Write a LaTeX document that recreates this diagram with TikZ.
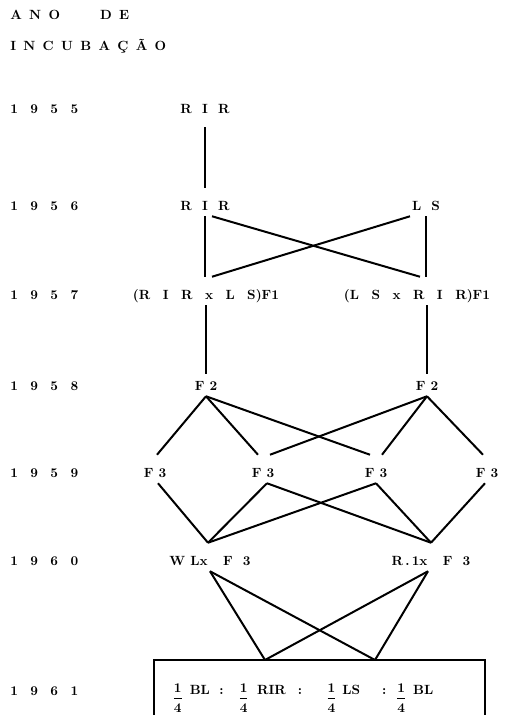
\documentclass[tikz,border=0pt]{standalone}
\usepackage{tikz}

\newcommand{\qfrac}{\raisebox{-6pt}{\boldmath$\displaystyle\frac{1}{4}$}}

\tikzset{
  gen/.style={anchor=base, inner sep=0pt, text height=16.5pt, text depth=4.5pt, font=\bfseries},
  yr/.style={anchor=base west, inner sep=0pt, font=\bfseries},
  lnk/.style={line width=1.5pt},
}

\begin{document}
\begin{tikzpicture}[x=0.75pt,y=0.75pt,yscale=-1,xscale=1]
\useasboundingbox (0,0) rectangle (505,715);

% heading
\node[yr] (ano) at (10,19) {A~\,N~\,O\hspace{30pt}D~\,E};
\node[yr] (inc) at (10,50) {I~\,N~\,C~\,U~\,B~\,A~\,Ç~\,Ã~\,O};

% years
\node[yr] (y55) at (10,113) {1~~\,9~~\,5~~\,5};
\node[yr] (y56) at (10,210) {1~~\,9~~\,5~~\,6};
\node[yr] (y57) at (10,299) {1~~\,9~~\,5~~\,7};
\node[yr] (y58) at (10,390) {1~~\,9~~\,5~~\,8};
\node[yr] (y59) at (10,477) {1~~\,9~~\,5~~\,9};
\node[yr] (y60) at (10,565) {1~~\,9~~\,6~~\,0};
\node[yr] (y61) at (10,695) {1~~\,9~~\,6~~\,1};

% crosses
\node[gen] (rir55) at (205,113) {R~~I~~R};
\node[gen] (rir56) at (205,210) {R~~I~~R};
\node[gen] (ls56) at (426,210) {L~~S};
\node[gen] (f1a) at (206,299) {(R~~\,I~~\,R~~\,x~~\,L~~\,S)F1};
\node[gen] (f1b) at (417,299) {(L~~\,S~~\,x~~\,R~~\,I~~\,R)F1};
\node[gen] (f2a) at (206,390) {F~2};
\node[gen] (f2b) at (427,390) {F~2};
\node[gen] (f3a) at (155,477) {F~3};
\node[gen] (f3b) at (263,477) {F~3};
\node[gen] (f3c) at (376,477) {F~3};
\node[gen] (f3d) at (487,477) {F~3};
\node[gen] (wl) at (210,565) {W~Lx~~~F~~3};
\node[gen] (rl) at (431,565) {R\,.\,1x~~~F~~3};

% 1955 - 1957
\draw[lnk, shorten <=6pt] (rir55.south) -- (rir56.north);
\draw[lnk] (rir56.south) -- (rir56.south |- f1a.north);
\draw[lnk] ([xshift=5.25pt]rir56.south) -- ([xshift=2.25pt]f1b.north);
\draw[lnk] ([xshift=-12pt]ls56.south) -- ([xshift=4.5pt]f1a.north);
\draw[lnk] (ls56.south) -- (ls56.south |- f1b.north);

% F1 - F2
\draw[lnk, shorten >=-5pt] (f2a.north |- f1a.south) -- (f2a.north);
\draw[lnk, shorten >=-5pt] (f2b.north |- f1b.south) -- (f2b.north);

% F2 - F3
\draw[lnk] (f2a.south) -- ([xshift=1.5pt]f3a.north);
\draw[lnk] (f2a.south) -- ([xshift=-3.75pt]f3b.north);
\draw[lnk] (f2a.south) -- ([xshift=-4.5pt]f3c.north);
\draw[lnk] (f2b.south) -- ([xshift=5.25pt]f3b.north);
\draw[lnk] (f2b.south) -- ([xshift=4.5pt]f3c.north);
\draw[lnk] (f2b.south) -- ([xshift=-3pt]f3d.north);

% F3 - backcrosses
\draw[lnk] ([xshift=2.25pt]f3a.south) -- ([xshift=-1.5pt]wl.north);
\draw[lnk] ([xshift=3pt]f3b.south) -- ([xshift=-1.5pt]wl.north);
\draw[lnk] ([xshift=3pt]f3b.south) -- (rl.north);
\draw[lnk] (f3c.south) -- ([xshift=-1.5pt]wl.north);
\draw[lnk] (f3c.south) -- (rl.north);
\draw[lnk] ([xshift=-1.5pt]f3d.south) -- (rl.north);

% 1961 result box
\coordinate (k1) at (265,660);
\coordinate (k2) at (375,660);
\coordinate (boxbl) at (154,715);
\coordinate (boxtr) at (485,660);
\draw[lnk] (wl.south) -- (k1);
\draw[lnk] (wl.south) -- (k2);
\draw[lnk] ([xshift=-2.25pt]rl.south) -- (k1);
\draw[lnk] ([xshift=-2.25pt]rl.south) -- (k2);
\draw[lnk] (boxbl) |- (boxtr) -- (boxtr |- boxbl);
\node[anchor=base west, inner sep=0pt, font=\bfseries] (ratio) at (172,694)
  {\qfrac\hspace{5pt}BL\hspace{7pt}:\hspace{11pt}\qfrac\hspace{6pt}RIR\hspace{9pt}:\hspace{18pt}\qfrac\hspace{4pt}LS\hspace{16.5pt}:\hspace{7pt}\qfrac\hspace{5pt}BL};
\end{tikzpicture}
\end{document}
